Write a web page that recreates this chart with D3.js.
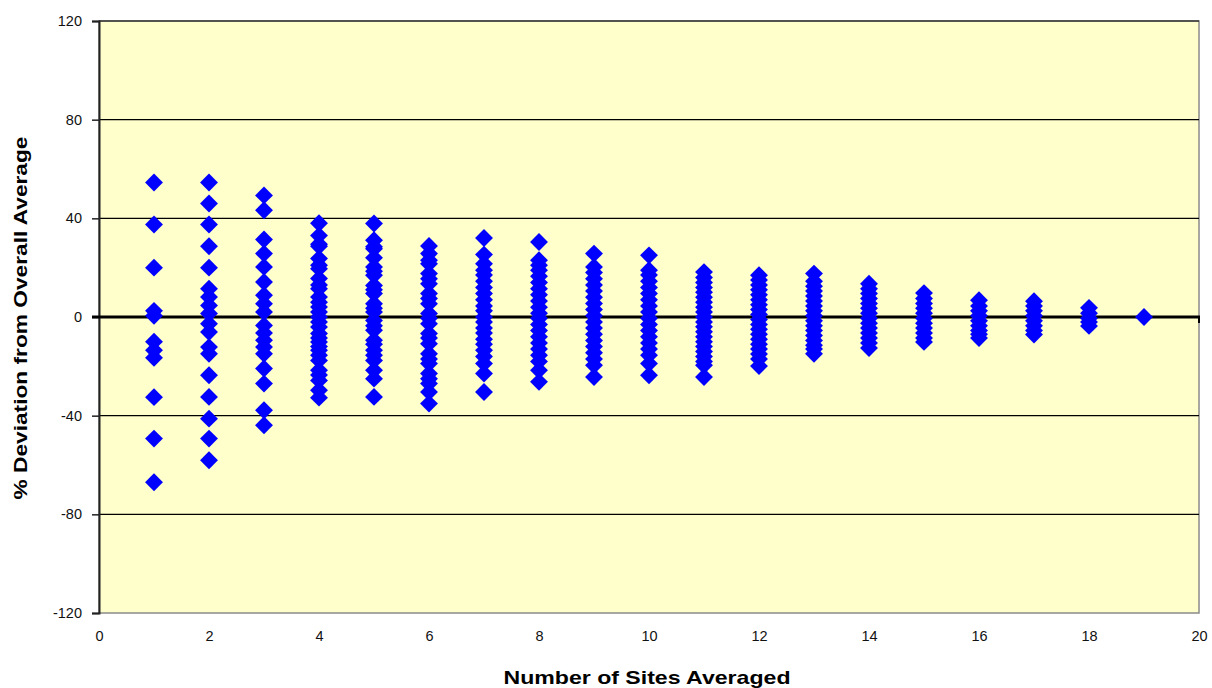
<!DOCTYPE html>
<html>
<head>
<meta charset="utf-8">
<script src="https://cdn.jsdelivr.net/npm/d3@7"></script>
<style>
  body { margin: 0; background: #fff; }
  text { font-family: Arial, "Liberation Sans", sans-serif; }
</style>
</head>
<body>
<div id="chart"></div>
<script>
// number of sites averaged (x) and the % deviation readings at each
const sites = [1, 2, 3, 4, 5, 6, 7, 8, 9, 10, 11, 12, 13, 14, 15, 16, 17, 18, 19];
const dev1 = [54.5, 37.5, 20, 2.5, 0.5, -10, -13.5, -16.5, -32.5, -49.3, -67];
const dev2 = [54.5, 46, 37.5, 28.7, 20, 11.5, 8.1, 4.7, 1.4, -2.7, -6.1, -12.2, -14.9, -23.6, -32.4, -41.2, -49.3, -58.1];
const dev3 = [49.3, 43.3, 31.4, 25.7, 20.3, 14.2, 8.8, 5.4, 2, -3.4, -6.5, -9.4, -12.2, -14.9, -20.9, -27, -37.8, -43.9];
const dev4 = [38, 33, 29.5, 28.7, 23.7, 21, 19.6, 15.6, 13, 11.5, 8.1, 6, 4.1, 2, 0, -2, -4.1, -6.7, -8.5, -10.1, -12, -13.5, -15.5, -17.6, -21.6, -23.5, -25.7, -29.7, -32.7];
const dev5 = [37.9, 31.1, 28.5, 27.7, 24, 20.3, 18.5, 16.9, 12.8, 11, 9.5, 5.4, 3.5, 2, -1.4, -3.5, -5.4, -9.4, -11, -13.5, -15.5, -17.6, -21.6, -25, -32.4];
const dev6 = [28.8, 25.7, 23, 21.6, 17.6, 15.5, 13.5, 9.5, 7.5, 5.4, 1.4, -0.5, -2.7, -6.7, -8.5, -10.8, -14.9, -17, -18.9, -22.9, -25, -27, -30.4, -35.1];
const dev7 = [32, 25.3, 21.6, 19, 17, 14.5, 12, 9.5, 7, 4.5, 2.5, 0, -2, -4.5, -6.5, -9, -11, -13.5, -16, -18.9, -22.9, -30.4];
const dev8 = [30.4, 23, 21, 19, 16.5, 14, 11.5, 9, 6.5, 4, 1.5, -0.5, -3, -5.5, -8, -10.5, -13, -15.5, -18, -21.6, -26.3];
const dev9 = [25.7, 20.3, 18, 15.5, 13, 10.5, 8, 5.5, 3, 0.5, -2, -4.5, -7, -9.5, -12, -14.5, -17, -19.6, -24.3];
const dev10 = [25, 19, 17, 14.5, 12, 9.5, 7, 4.5, 2, -0.5, -3, -5.5, -8, -10.5, -13, -15.5, -18.9, -23.6];
const dev11 = [18.2, 16, 14, 12, 10, 8, 6, 4, 2, 0, -2, -4, -6, -8, -10, -12, -14, -16, -18, -19.6, -24.3];
const dev12 = [16.9, 15, 13, 11, 9, 7, 5, 3, 1, -1, -3, -5, -7, -9, -11, -13, -15, -17, -19.9];
const dev13 = [17.6, 14.5, 12.5, 10.5, 8.5, 6.5, 4.5, 2.5, 0.5, -1.5, -3.5, -5.5, -7.5, -9.5, -11.5, -13, -14.9];
const dev14 = [13.5, 11.5, 9.5, 7.5, 5.5, 3.5, 1.5, -0.5, -2.5, -4.5, -6.5, -8.5, -10.5, -12.6];
const dev15 = [9.7, 7.5, 5.5, 3.5, 1.5, -0.5, -2.5, -4.5, -6.5, -8.5, -10.1];
const dev16 = [6.8, 4.5, 2.5, 0.5, -1.5, -3.5, -5.5, -7, -8.5];
const dev17 = [6.4, 4.5, 2.5, 0.5, -1.5, -3.5, -5.5, -7.1];
const dev18 = [3.7, 1.5, -0.5, -2, -3.6];
const dev19 = [0];
const deviations = [dev1, dev2, dev3, dev4, dev5, dev6, dev7, dev8, dev9, dev10,
  dev11, dev12, dev13, dev14, dev15, dev16, dev17, dev18, dev19];

const xTicks = [0, 2, 4, 6, 8, 10, 12, 14, 16, 18, 20];
const yTicks = [-120, -80, -40, 0, 40, 80, 120];

// flatten to points
const points = [];
sites.forEach((s, i) => deviations[i].forEach(v => points.push({ x: s, y: v })));

const W = 1212, H = 688;
const plotLeft = 99, plotRight = 1199, plotTop = 21, plotBottom = 613;

const svg = d3.select('#chart').append('svg')
  .attr('width', W)
  .attr('height', H);

const x = d3.scaleLinear().domain([0, 20]).range([plotLeft, plotRight]);
const y = d3.scaleLinear().domain([-120, 120]).range([plotBottom, plotTop]);

// plot area
svg.append('rect')
  .attr('x', plotLeft).attr('y', plotTop)
  .attr('width', plotRight - plotLeft).attr('height', plotBottom - plotTop)
  .attr('fill', '#ffffcc')
  .attr('stroke', '#8a8a8a')
  .attr('stroke-width', 1.5);

// gridlines
svg.append('g')
  .selectAll('line')
  .data(yTicks.filter(t => t !== 0 && t !== -120))
  .enter()
  .append('line')
  .attr('x1', plotLeft).attr('x2', plotRight)
  .attr('y1', d => y(d)).attr('y2', d => y(d))
  .attr('stroke', '#000')
  .attr('stroke-width', 1.2);

// y axis (plain hyphen for negatives like the original)
const yAxis = svg.append('g')
  .attr('transform', `translate(${plotLeft},0)`)
  .call(d3.axisLeft(y).tickValues(yTicks).tickFormat(d => String(d)).tickSize(7).tickPadding(10));
yAxis.select('.domain').attr('stroke', '#222').attr('stroke-width', 2);
yAxis.selectAll('.tick line').attr('stroke', '#222').attr('stroke-width', 1.5);
yAxis.selectAll('text').style('font-size', '14.5px').attr('fill', '#111');

// x tick labels at the bottom
svg.append('g')
  .attr('transform', `translate(0,${plotBottom})`)
  .call(d3.axisBottom(x).tickValues(xTicks).tickFormat(d => String(d)).tickSize(0).tickPadding(18))
  .call(g => g.select('.domain').remove())
  .selectAll('text')
  .style('font-size', '14.5px')
  .attr('fill', '#111');

// zero line
svg.append('line')
  .attr('x1', plotLeft - 7).attr('x2', plotRight + 1)
  .attr('y1', y(0)).attr('y2', y(0))
  .attr('stroke', '#000')
  .attr('stroke-width', 3);
svg.append('line')
  .attr('x1', plotRight).attr('x2', plotRight)
  .attr('y1', y(0)).attr('y2', y(0) + 6)
  .attr('stroke', '#000')
  .attr('stroke-width', 2);

// diamonds
const diamond = d3.symbol().type(d3.symbolSquare).size(160);
svg.append('g')
  .selectAll('path')
  .data(points)
  .enter()
  .append('path')
  .attr('d', diamond)
  .attr('transform', d => `translate(${x(d.x)},${y(d.y)}) rotate(45)`)
  .attr('fill', '#0000ff');

// axis titles
svg.append('text')
  .attr('x', 647)
  .attr('y', 684)
  .attr('text-anchor', 'middle')
  .attr('textLength', 287)
  .attr('lengthAdjust', 'spacingAndGlyphs')
  .style('font-size', '19px')
  .style('font-weight', 'bold')
  .text('Number of Sites Averaged');

svg.append('text')
  .attr('transform', 'translate(27,318) rotate(-90)')
  .attr('text-anchor', 'middle')
  .attr('textLength', 363)
  .attr('lengthAdjust', 'spacingAndGlyphs')
  .style('font-size', '19px')
  .style('font-weight', 'bold')
  .text('% Deviation from Overall Average');
</script>
</body>
</html>
